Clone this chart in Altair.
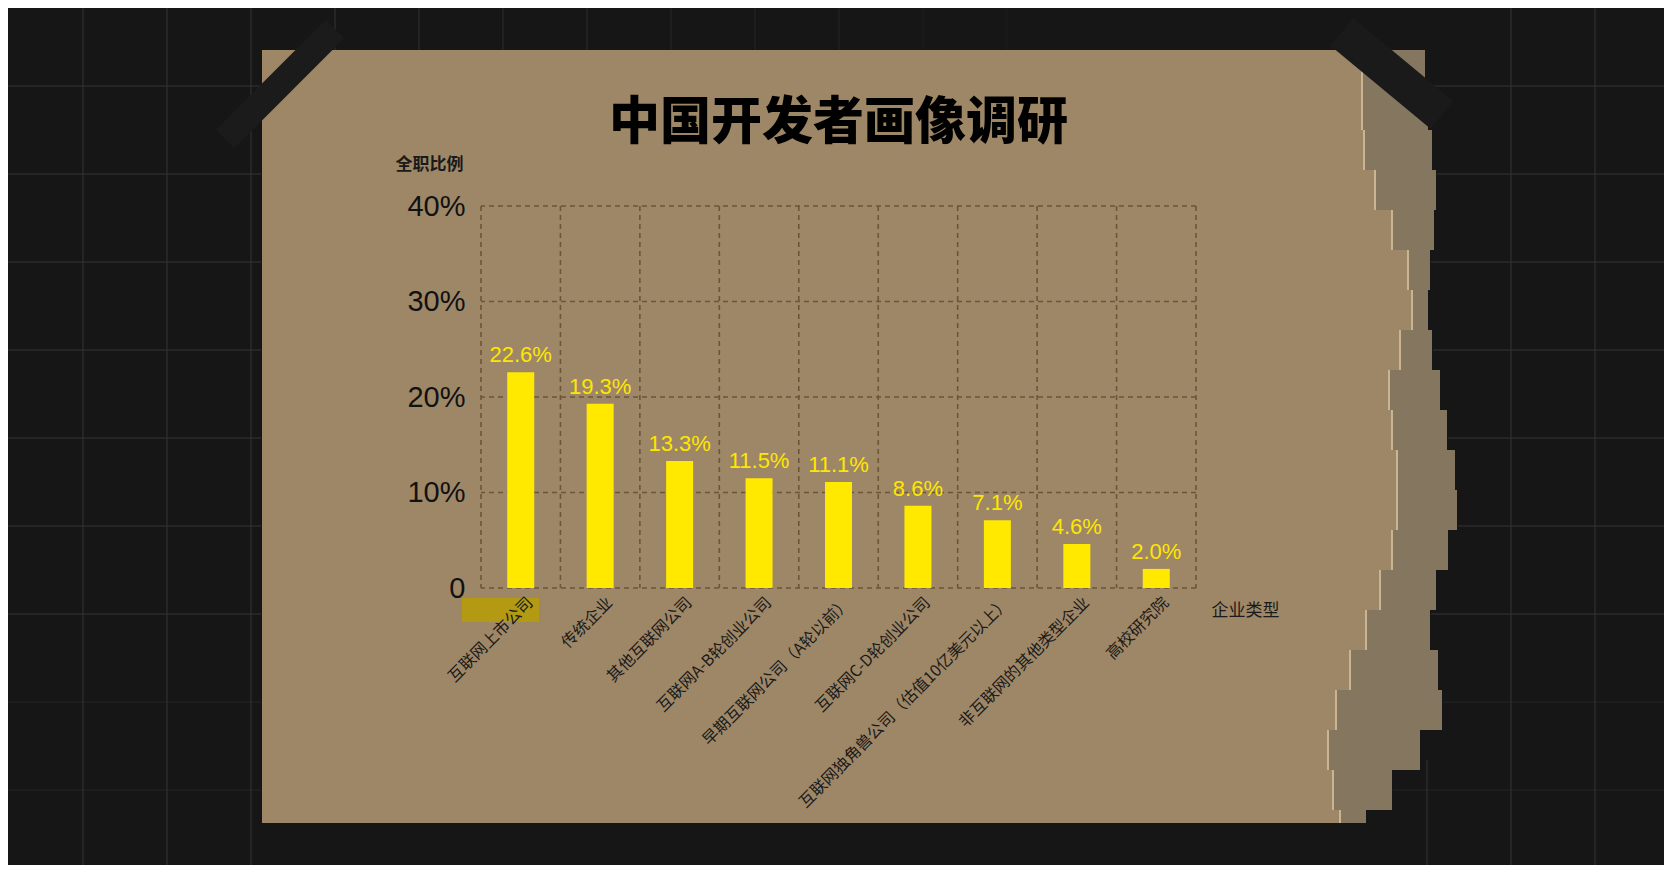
import altair as alt
import pandas as pd

# ---------------- data ----------------
categories = [
    "互联网上市公司",
    "传统企业",
    "其他互联网公司",
    "互联网A-B轮创业公司",
    "早期互联网公司（A轮以前）",
    "互联网C-D轮创业公司",
    "互联网独角兽公司（估值10亿美元以上）",
    "非互联网的其他类型企业",
    "高校研究院",
]
shares = [22.6, 19.3, 13.3, 11.5, 11.1, 8.6, 7.1, 4.6, 2.0]
y_ticks = [0, 10, 20, 30, 40]
chart_title = "中国开发者画像调研"

# ---------------- decoration (page pixels) ----------------
bg_grid_x = [83, 167, 251, 1511, 1595]
bg_grid_x_top = [335, 419, 503, 587, 671, 755, 839, 923, 1007]
bg_grid_y = [86, 174, 262, 350, 438, 526, 614, 702, 790]
# torn right side of the paper, sampled top to bottom
edge_y = [50, 90, 130, 170, 210, 250, 290, 330, 370, 410, 450, 490, 530, 570,
          610, 650, 690, 730, 770, 810, 823]
strip_edge_x = [1425, 1428, 1432, 1436, 1434, 1430, 1428, 1432, 1440, 1447, 1455,
                1457, 1448, 1436, 1430, 1438, 1442, 1420, 1392, 1366]
paper_edge_x = [1362, 1362, 1364, 1375, 1392, 1408, 1412, 1400, 1389, 1392, 1397,
                1397, 1392, 1380, 1366, 1350, 1336, 1328, 1333, 1340]

# ---------------- layout ----------------
W, H = 715, 382
OX, OY = 481, 206          # page position of plot origin
PAD_L, PAD_T = OX - 8, OY - 8
TOT_W, TOT_H = 1656, 857
PAPER = "#9e8767"
STRIP = "#857660"
DARK = "#161616"
BGLINE = "#343434"
GRID = "#6b5638"


def px(X):
    return X - OX


def py(Y):
    return Y - OY


df = pd.DataFrame({"企业类型": categories, "全职比例": shares})
one = pd.DataFrame({"k": [0]})

xscale = alt.Scale(domain=categories, paddingInner=0, paddingOuter=0)
yscale = alt.Scale(domain=[0, 40], nice=False, zero=True)

x_axis = alt.Axis(
    title="企业类型",
    titleX=764, titleY=22, titleAlign="center", titleBaseline="middle",
    titleFont="Noto Sans CJK SC", titleFontSize=17, titleFontWeight="normal",
    titleColor="#1a1a1a",
    labelAngle=315, labelFont="Noto Sans CJK SC", labelFontSize=16,
    labelColor="#1a1a1a", labelPadding=6, labelOffset=4, labelLimit=0, labelOverlap=False,
    grid=False, domain=False, ticks=False, zindex=1,
)
y_axis = alt.Axis(
    values=y_ticks,
    labelExpr="datum.value == 0 ? '0' : datum.value + '%'",
    labelFont="Liberation Sans", labelFontSize=29, labelColor="#111111",
    labelPadding=16,
    title="全职比例", titleAngle=0, titleX=-52, titleY=-42,
    titleAlign="center", titleBaseline="middle",
    titleFont="Noto Sans CJK SC", titleFontSize=17, titleFontWeight="bold",
    titleColor="#1a1a1a",
    grid=False, domain=False, ticks=False, zindex=1,
)


def box(X1, X2, Y1, Y2, color):
    return alt.Chart(one).mark_rect(color=color).encode(
        x=alt.value(px(X1)), x2=alt.value(px(X2)),
        y=alt.value(py(Y1)), y2=alt.value(py(Y2)),
    )


def vline(X, Y1, Y2, color, width=1, opacity=1.0):
    return alt.Chart(one).mark_rule(color=color, strokeWidth=width, opacity=opacity).encode(
        x=alt.value(px(X)), y=alt.value(py(Y1)), y2=alt.value(py(Y2))
    )


def hline(Y, X1, X2, color, width=1, opacity=1.0):
    return alt.Chart(one).mark_rule(color=color, strokeWidth=width, opacity=opacity).encode(
        y=alt.value(py(Y)), x=alt.value(px(X1)), x2=alt.value(px(X2))
    )


def strip_at(Y):
    for i in range(len(strip_edge_x)):
        if edge_y[i] <= Y < edge_y[i + 1]:
            return strip_edge_x[i]
    return 1340


layers = []

# dark surroundings of the kraft paper (paper = chart background)
layers += [
    box(8, 262, 8, 865, DARK),
    box(262, 1330, 8, 50, DARK),
    box(262, 1330, 823, 865, DARK),
    box(1326, 1664, 8, 865, DARK),
]
# torn strip and torn paper edge
for i in range(len(strip_edge_x)):
    layers.append(box(1326, strip_edge_x[i], edge_y[i], edge_y[i + 1], STRIP))
for i in range(len(paper_edge_x)):
    layers.append(box(1326, paper_edge_x[i], edge_y[i], edge_y[i + 1], PAPER))
for i in range(len(paper_edge_x)):
    layers.append(vline(paper_edge_x[i], edge_y[i], edge_y[i + 1], "#c9b592", 2))

# backdrop grid lines on the dark area
for X in bg_grid_x:
    layers.append(vline(X, 8, 865, BGLINE))
for i, X in enumerate(bg_grid_x_top):
    layers.append(vline(X, 8, 50, BGLINE, 1, 1.0 - 0.09 * i))
layers.append(vline(1427, 760, 865, BGLINE))
for Y in bg_grid_y:
    op = 1.0 if Y < 650 else 0.55
    layers.append(hline(Y, 8, 261, BGLINE, 1, op))
    layers.append(hline(Y, strip_at(Y) + 1, 1664, BGLINE, 1, op))

# tapes
layers.append(
    alt.Chart(one).mark_rule(color="#1b1b1b", strokeWidth=26, strokeCap="butt").encode(
        x=alt.value(px(225)), y=alt.value(py(139)),
        x2=alt.value(px(335)), y2=alt.value(py(29)),
    )
)
layers.append(
    alt.Chart(one).mark_rule(color="#1a1a1a", strokeWidth=36, strokeCap="butt").encode(
        x=alt.value(px(1342)), y=alt.value(py(32)),
        x2=alt.value(px(1442)), y2=alt.value(py(115)),
    )
)
# highlight under first category label
layers.append(box(462, 539, 598, 622, "#b39a12"))

# title
layers.append(
    alt.Chart(one)
    .mark_text(font="Noto Sans CJK SC", fontSize=51, fontWeight=900, color="#000000",
               align="center", baseline="alphabetic")
    .encode(x=alt.value(W / 2), y=alt.value(py(139)), text=alt.value(chart_title))
)

# dashed grid through the scales
layers.append(
    alt.Chart(pd.DataFrame({"tick": y_ticks}))
    .mark_rule(color=GRID, strokeWidth=1.6, strokeDash=[5, 4])
    .encode(y=alt.Y("tick:Q", scale=yscale, axis=y_axis))
)
layers.append(
    alt.Chart(df)
    .mark_rule(color=GRID, strokeWidth=1.6, strokeDash=[5, 4])
    .encode(x=alt.X("企业类型:N", bandPosition=0, scale=xscale, axis=x_axis))
)
layers.append(
    alt.Chart(df.tail(1))
    .mark_rule(color=GRID, strokeWidth=1.6, strokeDash=[5, 4])
    .encode(x=alt.X("企业类型:N", bandPosition=1, scale=xscale, axis=x_axis))
)

# bars
layers.append(
    alt.Chart(df)
    .mark_bar(color="#FFE900", width=alt.RelativeBandSize(0.34))
    .encode(
        x=alt.X("企业类型:N", scale=xscale, axis=x_axis),
        y=alt.Y("全职比例:Q", scale=yscale, axis=y_axis),
    )
)

# value labels
layers.append(
    alt.Chart(df)
    .transform_calculate(lbl="format(datum['全职比例'], '.1f') + '%'")
    .mark_text(color="#FFE600", font="Liberation Sans", fontSize=22, baseline="bottom", dy=-5)
    .encode(
        x=alt.X("企业类型:N", scale=xscale, axis=x_axis),
        y=alt.Y("全职比例:Q", scale=yscale, axis=y_axis),
        text="lbl:N",
    )
)

chart = (
    alt.layer(*layers)
    .properties(
        width=W,
        height=H,
        autosize=alt.AutoSizeParams(type="none"),
        padding={"left": PAD_L, "top": PAD_T, "right": TOT_W - PAD_L - W, "bottom": TOT_H - PAD_T - H},
        background=PAPER,
    )
    .configure_view(strokeWidth=0)
)

chart.save("out.html", embed_options={"renderer": "svg", "actions": False})
